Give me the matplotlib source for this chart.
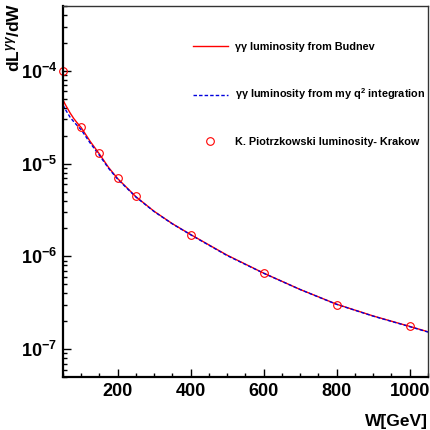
import math
import matplotlib
matplotlib.use("Agg")
import matplotlib.pyplot as plt
from matplotlib.ticker import FixedLocator, FuncFormatter, LogLocator, NullFormatter

plt.rcParams['font.family'] = ['Liberation Sans', 'DejaVu Sans']
plt.rcParams['mathtext.fontset'] = 'custom'
plt.rcParams['mathtext.rm'] = 'Liberation Sans:bold'
plt.rcParams['mathtext.bf'] = 'Liberation Sans:bold'
plt.rcParams['mathtext.it'] = 'Liberation Sans:bold:italic'

# Budnev curve
w_budnev = [50, 55, 60, 70, 80, 90, 100, 125, 150, 175, 200, 250, 300, 350, 400,
            450, 500, 600, 700, 800, 900, 1000, 1050]
lum_budnev = [4.9e-5, 4.45e-5, 4.1e-5, 3.5e-5, 3.05e-5, 2.72e-5, 2.45e-5, 1.73e-5,
              1.27e-5, 9.1e-6, 6.9e-6, 4.4e-6, 3.06e-6, 2.25e-6, 1.72e-6,
              1.33e-6, 1.03e-6, 6.6e-7, 4.4e-7, 3.05e-7, 2.28e-7, 1.76e-7, 1.54e-7]

# q^2 integration curve
w_q2 = w_budnev
lum_q2 = [4.3e-5, 3.95e-5, 3.65e-5, 3.15e-5, 2.82e-5, 2.55e-5, 2.32e-5, 1.66e-5,
          1.23e-5, 8.9e-6, 6.8e-6, 4.36e-6, 3.04e-6, 2.24e-6, 1.71e-6,
          1.32e-6, 1.02e-6, 6.58e-7, 4.39e-7, 3.04e-7, 2.27e-7, 1.75e-7, 1.53e-7]

# Krakow points
w_krakow = [50, 100, 150, 200, 250, 400, 600, 800, 1000]
lum_krakow = [1.0e-4, 2.5e-5, 1.29e-5, 7.0e-6, 4.44e-6, 1.72e-6, 6.56e-7, 3.03e-7, 1.77e-7]

fig = plt.figure(figsize=(4.31, 4.30), dpi=100)
ax = fig.add_axes([0.146, 0.123, 0.847, 0.863])

ax.plot(w_budnev, lum_budnev, color='#ff0000', lw=1.0, label='γγ luminosity from Budnev')
ax.plot(w_q2, lum_q2, color='#0000dd', lw=1.0, ls=(0, (2.5, 1.5)),
        label=r'γγ luminosity from my q$^2$ integration')
ax.plot(w_krakow, lum_krakow, 'o', mfc='none', mec='#ff0000', ms=5.5, mew=0.8,
        label='K. Piotrzkowski luminosity- Krakow', clip_on=False)

ax.set_yscale('log')
ax.set_xlim(50, 1050)
ax.set_ylim(5e-8, 5e-4)

ax.xaxis.set_major_locator(FixedLocator([200, 400, 600, 800, 1000]))
ax.xaxis.set_minor_locator(FixedLocator(list(range(50, 1051, 50))))
ax.yaxis.set_major_locator(LogLocator(base=10, numticks=10))
ax.yaxis.set_minor_locator(LogLocator(base=10, subs=range(2, 10), numticks=20))
ax.yaxis.set_minor_formatter(NullFormatter())
ax.yaxis.set_major_formatter(FuncFormatter(lambda v, p: r'$\mathbf{10^{%d}}$' % round(math.log10(v))))

ax.tick_params(which='both', direction='in', top=False, right=False, width=1.0)
ax.tick_params(which='major', length=6, labelsize=13, pad=4)
ax.tick_params(which='minor', length=3)
for lab in ax.get_xticklabels():
    lab.set_fontweight('bold')

for s in ['left', 'bottom']:
    ax.spines[s].set_linewidth(1.6)
    ax.spines[s].set_color('black')
for s in ['top', 'right']:
    ax.spines[s].set_linewidth(1.0)
    ax.spines[s].set_color('#333333')

ax.set_xlabel('W[GeV]', fontsize=12.5, fontweight='bold', loc='right')
ax.set_ylabel(r'dL$^{\gamma\gamma}$/dW', fontsize=12.5, fontweight='bold', loc='top')
ax.xaxis.set_label_coords(1.0, -0.10)
ax.yaxis.set_label_coords(-0.112, 1.008)

leg = ax.legend(loc='upper left', bbox_to_anchor=(0.356, 0.903), frameon=False,
                prop={'weight': 'bold', 'size': 7.8},
                handlelength=3.2, handletextpad=0.7, labelspacing=3.2,
                borderpad=0, borderaxespad=0)

fig.savefig('out.png', dpi=100)
